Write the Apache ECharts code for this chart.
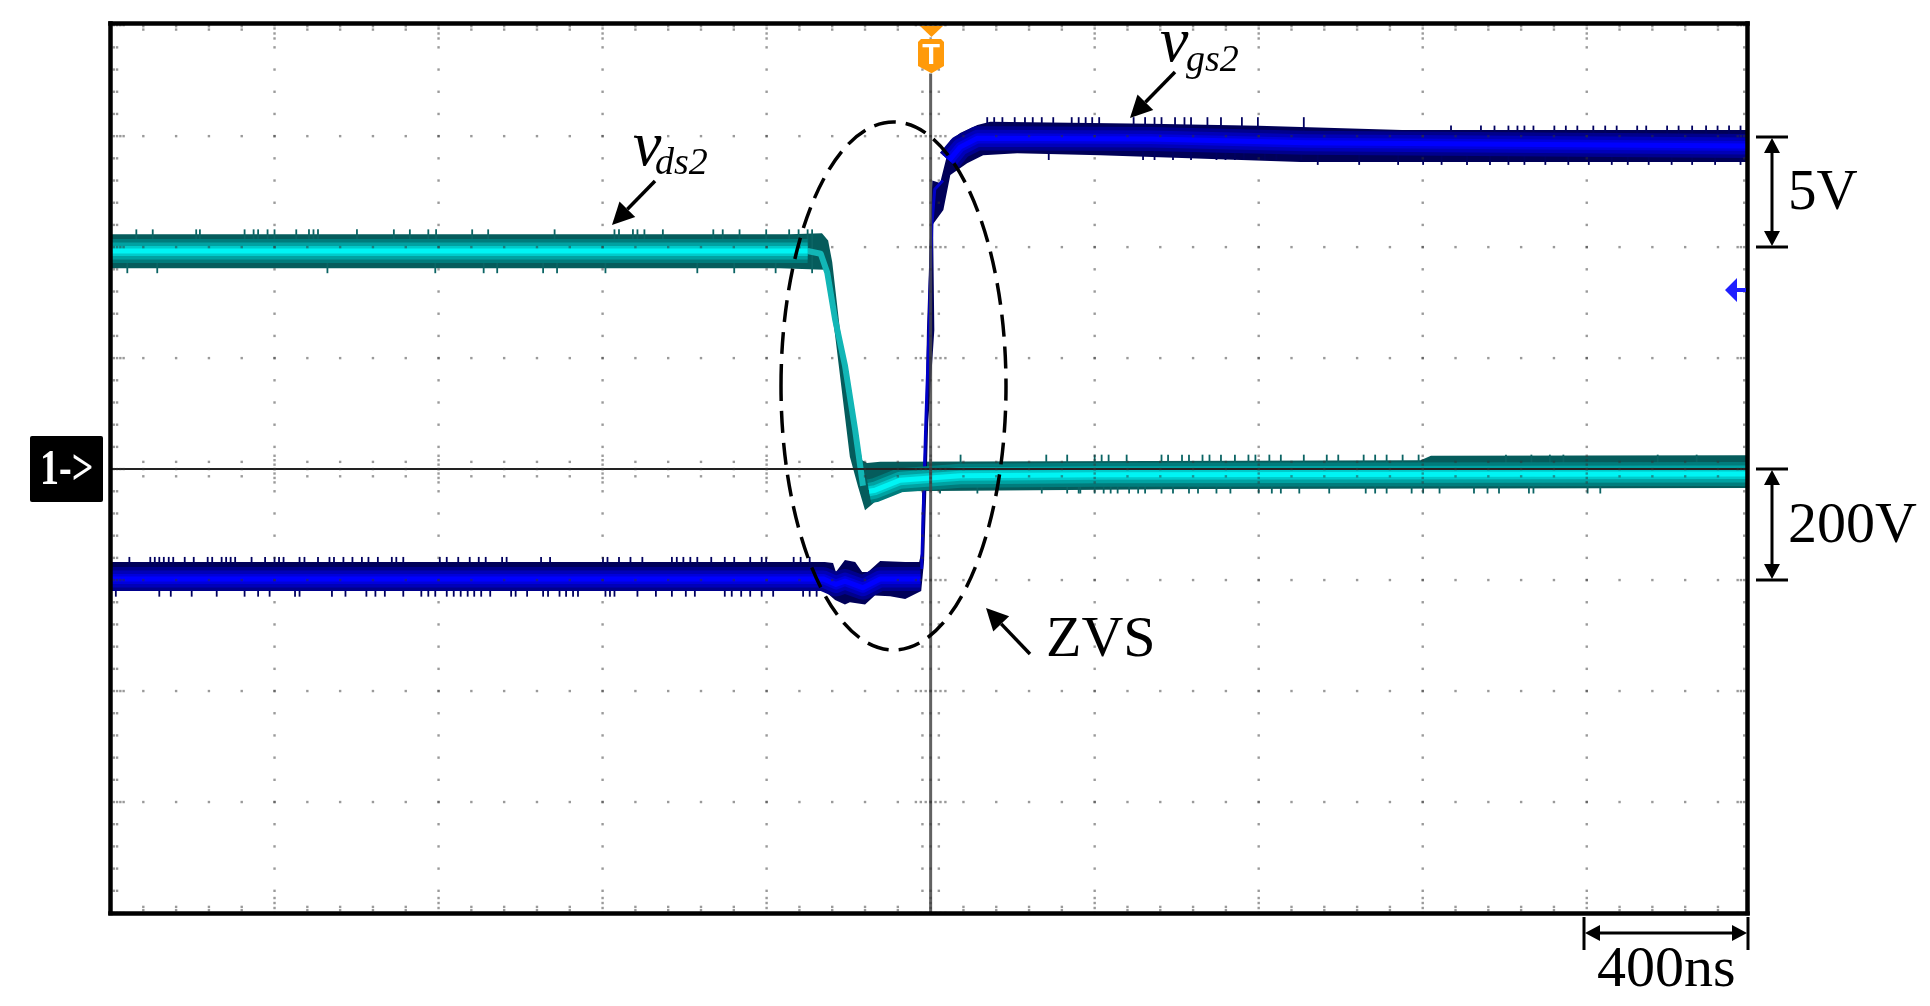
<!DOCTYPE html>
<html>
  <head>
    <meta charset="UTF-8" />
    <title>ZVS waveform</title>
    <script src="https://cdn.jsdelivr.net/npm/echarts@6/dist/echarts.min.js"></script>
    <style>
      html, body { margin: 0; padding: 0; background: #fff; }
      #main { width: 1930px; height: 1006px; }
    </style>
  </head>
  <body>
    <div id="main"></div>
    <script>
      // time axis in ns (trigger = 0), vds in V (200 V/div), vgs in V (5 V/div)
      const timeMin = -2000, timeMax = 1992, timeDiv = 400;
      const vdsMin = -800, vdsMax = 803, vdsDiv = 200;
      const vgsMin = -20, vgsMax = 20.07, vgsDiv = 5;

      // outline of the vds trace, left to right along the top, back along the bottom
      const vdsOutlineTop = [[-2000,423],[-343,423],[-265,425],[-250,412],[-240,373],[-221,250],[-197,133],[-167,16],[-155,11],[-123,13],[1195,16],[1220,24],[1992,25]];
      const vdsOutlineBottom = [[1992,-34],[659,-36],[-74,-40],[-99,-47],[-131,-56],[-160,-74],[-177,-32],[-197,22],[-233,241],[-250,333],[-258,359],[-368,362],[-2000,362]];
      const vdsHigh = [[-2000,393],[-300,393]];
      const vdsFall = [[-300,393],[-268,388],[-252,354],[-233,270],[-209,187],[-184,70],[-165,-30]];
      const vdsLow = [[-150,-40],[-135,-38],[-74,-20],[72,-12],[414,-10],[1992,-9]];

      // outline of the vgs trace
      const vgsOutlineTop = [[-2000,-4.19],[-258,-4.19],[-238,-4.23],[-231,-4.64],[-209,-4.1],[-184,-4.19],[-167,-4.64],[-153,-4.64],[-123,-4.14],[-62,-4.19],[-28,-4.19],[-23,-3.78],[-21,-1.26],[-13,2.07],[-9,6.26],[-1,10.77],[1,11.44],[4,13],[23,12.88],[40,14.14],[48,14.8],[72,15.14],[114,15.5],[145,15.64],[536,15.55],[800,15.46],[1150,15.27],[1992,15.27]];
      const vgsOutlineBottom = [[1992,13.83],[902,13.83],[414,14.14],[211,14.23],[128,14.14],[89,13.78],[48,13.24],[31,11.67],[6,11.04],[6,10.77],[9,6.26],[-6,2.07],[-11,-1.26],[-16,-4.14],[-23,-5.5],[-62,-5.86],[-99,-5.73],[-136,-5.7],[-160,-6.1],[-197,-6],[-209,-6.1],[-233,-5.9],[-258,-5.5],[-2000,-5.5]];
      const vgsLow = [[-2000,-4.95],[-262,-4.95],[-231,-5.2],[-209,-5.05],[-165,-5.35],[-123,-4.95],[-25,-4.95]];
      const vgsRise = [[-22,-4.5],[-12,2],[-4,6.26],[3,11],[10,12.6],[30,13]];
      const vgsHigh = [[45,13.9],[72,14.5],[114,14.9],[536,14.87],[915,14.7],[1992,14.55]];

      // noise spikes on the band edges, time in ns
      const vdsHighTopSpikes = [-1937,-1897,-1791,-1782,-1673,-1651,-1640,-1617,-1600,-1547,-1516,-1505,-1494,-1399,-1309,-1270,-1225,-1206,-1118,-1079,-917,-771,-760,-726,-715,-698,-653,-530,-507,-466,-401,-345,-322,-300,-289];
      const vdsHighBottomSpikes = [-1959,-1886,-1471,-1208,-1090,-1057,-945,-911,-793,-569,-479,-378,-289];
      const vdsLowTopSpikes = [73,282,333,400,417,434,478,563,579,613,630,663,680,708,742,775,792,826,854,910,966,994,1056,1084,1112,1151,1190,1403,1465,1510,1543,1773,1868];
      const vdsLowBottomSpikes = [23,114,271,333,361,365,400,422,439,456,484,506,523,563,591,630,652,697,731,800,832,854,899,972,1061,1084,1112,1173,1201,1241,1325,1358,1386,1459,1470,1602,1633];
      const vgsLowTopSpikes = [-1954,-1903,-1892,-1881,-1870,-1858,-1847,-1819,-1797,-1763,-1752,-1729,-1718,-1707,-1696,-1656,-1623,-1600,-1589,-1578,-1539,-1527,-1494,-1466,-1455,-1432,-1410,-1387,-1371,-1348,-1314,-1303,-1286,-1197,-1180,-1152,-1124,-1102,-1085,-1045,-1034,-950,-928,-799,-788,-760,-732,-703,-631,-619,-603,-586,-569,-535,-502,-479,-440,-412,-401,-334,-317,-295];
      const vgsLowBottomSpikes = [-1987,-1881,-1853,-1802,-1741,-1673,-1640,-1612,-1550,-1539,-1460,-1427,-1376,-1354,-1331,-1286,-1242,-1225,-1208,-1180,-1163,-1146,-1129,-1113,-1096,-1074,-1023,-1012,-984,-945,-933,-905,-889,-872,-860,-793,-782,-771,-715,-670,-631,-597,-575,-502,-485,-462,-440,-412,-384,-311,-295,-278];
      const vgsHighTopSpikesEarly = [138,155,175,205,230,249,271,299,344,361,378,394,411,495,523,546,563,596,619,635,675,708,759,798,910];
      const vgsHighTopSpikesLate = [1269,1342,1375,1409,1431,1448,1470,1521,1549,1577,1616,1645,1673,1723,1745,1796,1824,1857,1891,1919,1947,1975];
      const vgsHighBottomSpikesEarly = [288,518,546,591,635,697,719,742,764,815,843,904];
      const vgsHighBottomSpikesLate = [944,1045,1140,1201,1246,1308,1364,1409,1448,1499,1555,1605,1661,1700,1751,1807,1857,1913,1975];

      const cyanShades = ['#007c7c', '#00a2a2', '#00cbcb', '#00f4f4'];
      const blueShades = ['#00008c', '#0000b8', '#0000dc', '#0000ff'];
      const shadeWidths = [24, 17, 10, 5];

      function outlineSeries(points, fill, yAxisIndex) {
        return {
          type: 'custom', xAxisIndex: 0, yAxisIndex: yAxisIndex, silent: true, z: 2,
          data: [[0, 0]],
          renderItem: function (params, api) {
            return {
              type: 'polygon',
              shape: { points: points.map(function (p) { return api.coord(p); }) },
              style: { fill: fill }
            };
          }
        };
      }

      function spikeSeries(times, base, tip, color, yAxisIndex) {
        return {
          type: 'custom', xAxisIndex: 0, yAxisIndex: yAxisIndex, silent: true, z: 2,
          data: times.map(function (t) { return [t, tip]; }),
          renderItem: function (params, api) {
            const a = api.coord([api.value(0), base]);
            const b = api.coord([api.value(0), api.value(1)]);
            return {
              type: 'line',
              shape: { x1: a[0], y1: a[1], x2: b[0], y2: b[1] },
              style: { stroke: color, lineWidth: 1.8 }
            };
          }
        };
      }

      function traceSeries(points, color, width, yAxisIndex, z) {
        return {
          type: 'line', xAxisIndex: 0, yAxisIndex: yAxisIndex, silent: true, z: z,
          data: points, symbol: 'none', animation: false,
          lineStyle: { color: color, width: width, cap: 'butt', join: 'round' }
        };
      }

      // graticule dots, built from the scope's own division counts
      const dots = [];
      const minorX = timeDiv / 5, minorY = vdsDiv / 5;
      function addDot(t, v) { if (t <= timeMax && v <= vdsMax) dots.push([t, v]); }
      for (let i = 0; i <= 50; i++) {
        const t = timeMin + i * minorX;
        const major = i % 5 === 0;
        for (let k = 1; k < 8; k++) addDot(t, vdsMin + k * vdsDiv);
        (major ? [8, 16, 24, -8, -16, -24] : [13, -13]).forEach(function (d) { addDot(t, d); });
        (major ? [9, 18, 27] : [5, 11]).forEach(function (d) {
          addDot(t, vdsMin + d);
          addDot(t, vdsMax - d);
        });
      }
      for (let j = 0; j <= 40; j++) {
        const v = vdsMin + j * minorY;
        const major = j % 5 === 0;
        for (let k = 1; k < 10; k++) addDot(timeMin + k * timeDiv, v);
        (major ? [12, 24, 36, -12, -24, -36] : [20, -20]).forEach(function (d) { addDot(d, v); });
        (major ? [8, 16, 24, 32] : [8, 16]).forEach(function (d) { addDot(timeMin + d, v); });
        (major ? [8, 16, 24] : [8]).forEach(function (d) { addDot(timeMax - d, v); });
      }

      const series = [
        outlineSeries(vdsOutlineTop.concat(vdsOutlineBottom), '#055c5c', 0),
        spikeSeries(vdsHighTopSpikes, 393, 432, '#0b6464', 0),
        spikeSeries(vdsHighBottomSpikes, 393, 353, '#0b6464', 0),
        spikeSeries(vdsLowTopSpikes, -10, 26, '#0b6464', 0),
        spikeSeries(vdsLowBottomSpikes, -10, -44, '#0b6464', 0),
        traceSeries(vdsFall, '#12b6b6', 6, 0, 3),
        outlineSeries(vgsOutlineTop.concat(vgsOutlineBottom), '#000058', 1),
        spikeSeries(vgsLowTopSpikes, -5, -3.96, '#000060', 1),
        spikeSeries(vgsLowBottomSpikes, -5, -5.75, '#000060', 1),
        spikeSeries(vgsHighTopSpikesEarly, 15, 15.85, '#000060', 1),
        spikeSeries(vgsHighTopSpikesLate, 15, 15.47, '#000060', 1),
        spikeSeries(vgsHighBottomSpikesEarly, 14.5, 13.92, '#000060', 1),
        spikeSeries(vgsHighBottomSpikesLate, 14.5, 13.7, '#000060', 1),
        traceSeries(vgsRise, '#0000c8', 3, 1, 3)
      ];
      shadeWidths.forEach(function (w, i) {
        series.push(traceSeries(vdsHigh, cyanShades[i], w, 0, 3));
        series.push(traceSeries(vdsLow, cyanShades[i], w, 0, 3));
        series.push(traceSeries(vgsLow, blueShades[i], w, 1, 3));
        series.push(traceSeries(vgsHigh, blueShades[i], w, 1, 3));
      });
      // centre cross of the screen
      series.push(traceSeries([[timeMin, 0], [timeMax, 0]], '#222', 2, 0, 5));
      series.push(traceSeries([[0, 713], [0, vdsMin]], 'rgba(70,70,70,0.85)', 3, 0, 5));
      series.push({
        type: 'scatter', xAxisIndex: 0, yAxisIndex: 0, silent: true, z: 6,
        data: dots, symbol: 'rect', symbolSize: 2.4,
        itemStyle: { color: 'rgba(50,50,50,0.62)' }
      });

      // annotations
      const serif = '"Liberation Serif", "Times New Roman", serif';
      const graphics = [];
      function addLine(x1, y1, x2, y2, w) {
        graphics.push({ type: 'line', z: 100, shape: { x1: x1, y1: y1, x2: x2, y2: y2 }, style: { stroke: '#000', lineWidth: w } });
      }
      function addArrow(x1, y1, x2, y2, len, half, w) {
        const d = Math.hypot(x2 - x1, y2 - y1);
        const ux = (x2 - x1) / d, uy = (y2 - y1) / d;
        const bx = x2 - ux * len, by = y2 - uy * len;
        addLine(x1, y1, bx, by, w);
        graphics.push({
          type: 'polygon', z: 100,
          shape: { points: [[x2, y2], [bx - uy * half, by + ux * half], [bx + uy * half, by - ux * half]] },
          style: { fill: '#000' }
        });
      }
      function addText(text, x, y, size, italic, fill, weight) {
        graphics.push({
          type: 'text', z: 101, x: x, y: y,
          style: {
            text: text, fill: fill || '#000', textVerticalAlign: 'bottom',
            font: (italic ? 'italic ' : '') + (weight || 'normal') + ' ' + size + 'px ' + serif
          }
        });
      }
      addArrow(1175, 72, 1130, 118, 22, 11, 3.5);
      addArrow(655, 181, 612, 225, 22, 11, 3.5);
      addArrow(1030, 654, 986, 608, 22, 11, 3.5);
      // 5V bracket
      addLine(1756, 137, 1788, 137, 3);
      addLine(1756, 247, 1788, 247, 3);
      addArrow(1772, 190, 1772, 138, 15, 8, 3);
      addArrow(1772, 190, 1772, 246, 15, 8, 3);
      // 200V bracket
      addLine(1756, 469, 1788, 469, 3);
      addLine(1756, 580, 1788, 580, 3);
      addArrow(1772, 525, 1772, 470, 15, 8, 3);
      addArrow(1772, 525, 1772, 579, 15, 8, 3);
      // 400ns bracket
      addLine(1584, 917, 1584, 950, 3);
      addLine(1748, 917, 1748, 950, 3);
      addArrow(1666, 933, 1585, 933, 15, 8, 3);
      addArrow(1666, 933, 1747, 933, 15, 8, 3);
      // ZVS ellipse
      graphics.push({
        type: 'ellipse', z: 100,
        shape: { cx: 893.5, cy: 386, rx: 112.5, ry: 264 },
        style: { fill: 'none', stroke: '#000', lineWidth: 3.5, lineDash: [22, 10] }
      });
      // channel marker
      graphics.push({
        type: 'rect', z: 100, shape: { x: 30, y: 436, width: 73, height: 66, r: 2 }, style: { fill: '#000' }
      });
      graphics.push({
        type: 'text', z: 101, x: 40, y: 496, scaleX: 0.76,
        style: { text: '1->', fill: '#fff', textVerticalAlign: 'bottom', font: 'bold 50px ' + serif }
      });
      // trigger marker
      graphics.push({ type: 'polygon', z: 100, shape: { points: [[920, 26], [943, 26], [931.5, 37]] }, style: { fill: '#ff9a0a' } });
      graphics.push({
        type: 'polygon', z: 100,
        shape: { points: [[921, 39], [941, 39], [944, 42], [944, 66], [932, 73], [931, 73], [918, 66], [918, 42]] },
        style: { fill: '#ff9a0a' }
      });
      graphics.push({
        type: 'text', z: 101, x: 931, y: 56,
        style: { text: 'T', fill: '#fff', textAlign: 'center', textVerticalAlign: 'middle', font: 'bold 29px "Liberation Sans", sans-serif' }
      });
      // vgs ground marker
      graphics.push({
        type: 'polygon', z: 100,
        shape: { points: [[1725, 290], [1737, 278], [1737, 288], [1746, 288], [1746, 292], [1737, 292], [1737, 302]] },
        style: { fill: '#1f1fff' }
      });
      addText('v', 1160, 76, 64, true);
      addText('gs2', 1186, 80, 38, true);
      addText('v', 633, 180, 64, true);
      addText('ds2', 655, 183, 38, true);
      addText('ZVS', 1046, 670, 58);
      addText('5V', 1788, 223, 57);
      addText('200V', 1788, 556, 58);
      addText('400ns', 1597, 1000, 58);

      const frameLine = { show: true, onZero: false, lineStyle: { color: '#000', width: 4.5, cap: 'square' } };
      function timeAxis(position) {
        return {
          type: 'value', position: position, min: timeMin, max: timeMax, interval: timeDiv, z: 10,
          axisLine: frameLine, axisTick: { show: false }, axisLabel: { show: false }, splitLine: { show: false }
        };
      }
      function voltAxis(position, min, max, interval) {
        return {
          type: 'value', position: position, min: min, max: max, interval: interval, z: 10,
          axisLine: frameLine, axisTick: { show: false }, axisLabel: { show: false }, splitLine: { show: false }
        };
      }

      const chart = echarts.init(document.getElementById('main'));
      chart.setOption({
        backgroundColor: '#fff',
        animation: false,
        grid: { left: 110.5, top: 23.5, width: 1637, height: 889.5 },
        xAxis: [timeAxis('bottom'), timeAxis('top')],
        yAxis: [voltAxis('left', vdsMin, vdsMax, vdsDiv), voltAxis('right', vgsMin, vgsMax, vgsDiv)],
        series: series,
        graphic: graphics
      });
    </script>
  </body>
</html>
